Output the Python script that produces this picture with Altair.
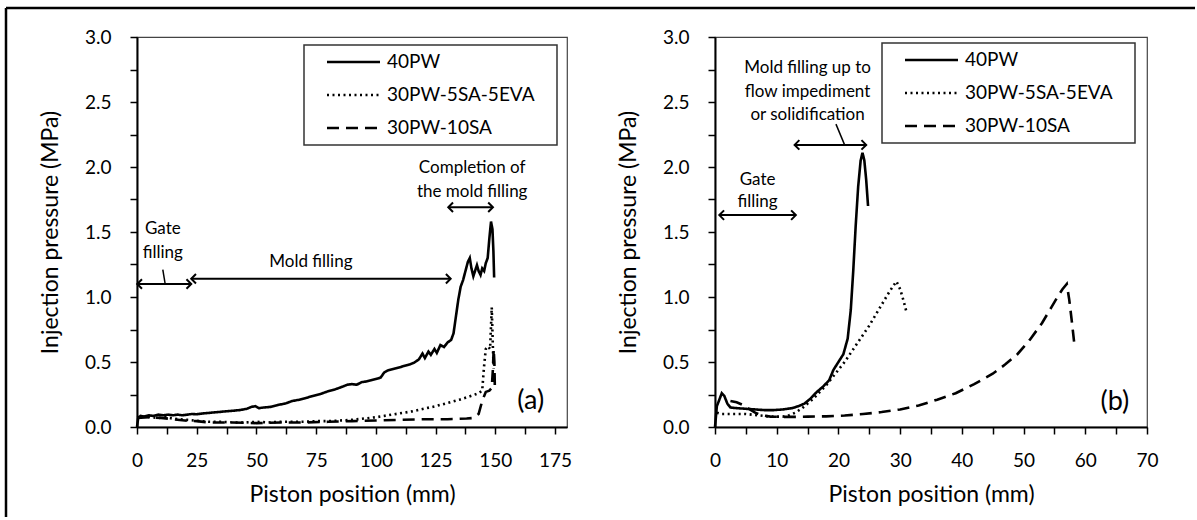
import altair as alt
import pandas as pd

FONT = "Lato"

SERIES = ["40PW", "30PW-5SA-5EVA", "30PW-10SA"]
DASHES = [[1, 0], [2, 3.5], [12, 7]]

Y_TICKS = [0.0, 0.25, 0.5, 0.75, 1.0, 1.25, 1.5, 1.75, 2.0, 2.25, 2.5, 2.75, 3.0]
A_X_TICKS = [0, 12.5, 25, 37.5, 50, 62.5, 75, 87.5, 100, 112.5, 125, 137.5, 150, 162.5, 175]
B_X_TICKS = [0, 5, 10, 15, 20, 25, 30, 35, 40, 45, 50, 55, 60, 65, 70]

# ---------------- panel (a) ----------------
A_40PW_X = [0, 0.5, 1.5, 3, 5, 7, 9, 11, 13, 15, 17, 19, 21, 23, 25, 28, 31, 34, 37, 40,
            43, 46, 48, 49.5, 51, 53, 56, 59, 62, 65, 68, 71, 74, 77, 80, 83, 86, 88, 90, 92,
            94, 96, 98, 100, 102, 103.5, 105, 108, 111, 114, 116, 118, 119.5, 120.5, 122, 123,
            124.5, 125.5, 127, 128.5, 130, 131.5, 132.5, 133.5, 134.5, 135.5, 136.5, 137.5,
            138.5, 139.3, 140, 140.8, 141.5, 142.3, 143, 143.8, 144.5, 145.3, 146, 146.8,
            147.5, 148.2, 148.8, 149.2, 149.5]
A_40PW_Y = [0.0, 0.07, 0.085, 0.08, 0.09, 0.085, 0.095, 0.09, 0.095, 0.09, 0.095, 0.09, 0.095,
            0.1, 0.098, 0.105, 0.11, 0.115, 0.12, 0.125, 0.13, 0.14, 0.155, 0.16, 0.145, 0.15,
            0.155, 0.17, 0.18, 0.2, 0.21, 0.225, 0.24, 0.255, 0.275, 0.29, 0.31, 0.325, 0.33,
            0.325, 0.345, 0.35, 0.36, 0.37, 0.38, 0.42, 0.435, 0.45, 0.465, 0.48, 0.495, 0.52,
            0.565, 0.53, 0.58, 0.555, 0.6, 0.57, 0.63, 0.615, 0.65, 0.67, 0.72, 0.85, 0.98,
            1.08, 1.13, 1.2, 1.27, 1.3, 1.22, 1.16, 1.2, 1.245, 1.2, 1.17, 1.22, 1.2, 1.26,
            1.3, 1.45, 1.58, 1.52, 1.35, 1.15]

A_DOT_X = [0, 3, 6, 9, 12, 15, 18, 21, 24, 27, 30, 35, 40, 45, 50, 55, 60, 65, 70, 75, 80,
           85, 90, 95, 100, 105, 110, 115, 120, 125, 130, 135, 140, 143, 144.5, 145.2, 146,
           147, 147.8, 148.5, 149, 149.3]
A_DOT_Y = [0.075, 0.08, 0.075, 0.07, 0.075, 0.065, 0.06, 0.055, 0.05, 0.045, 0.04, 0.04,
           0.035, 0.035, 0.04, 0.035, 0.04, 0.04, 0.04, 0.045, 0.045, 0.05, 0.055, 0.065,
           0.075, 0.09, 0.105, 0.12, 0.14, 0.16, 0.185, 0.21, 0.24, 0.26, 0.28, 0.45, 0.6,
           0.62, 0.6, 0.92, 0.6, 0.45]

A_DASH_X = [0, 5, 10, 15, 20, 25, 30, 40, 50, 60, 70, 80, 90, 100, 110, 120, 130, 138, 141,
            143, 144.5, 146, 147.5, 148.5, 149, 149.3, 149.6, 149.8]
A_DASH_Y = [0.07, 0.075, 0.07, 0.06, 0.05, 0.045, 0.035, 0.035, 0.03, 0.035, 0.035, 0.04,
            0.045, 0.05, 0.055, 0.06, 0.06, 0.065, 0.07, 0.1, 0.2, 0.27, 0.28, 0.3, 0.45,
            0.6, 0.5, 0.3]

# ---------------- panel (b) ----------------
B_40PW_X = [0, 0.3, 0.7, 1.1, 1.5, 2.0, 2.5, 3.5, 5, 6.5, 8, 9.5, 11, 12.5, 13.5, 14.5, 15.5,
            16.5, 17.5, 18.5, 19.2, 20, 20.8, 21.5, 22, 22.4, 22.8, 23.2, 23.6, 23.9, 24.2,
            24.5, 24.8]
B_40PW_Y = [0.0, 0.16, 0.21, 0.26, 0.24, 0.18, 0.15, 0.145, 0.14, 0.135, 0.13, 0.13, 0.135,
            0.145, 0.16, 0.18, 0.22, 0.27, 0.31, 0.36, 0.44, 0.5, 0.56, 0.68, 0.9, 1.2, 1.55,
            1.85, 2.05, 2.11, 2.05, 1.9, 1.7]

B_DOT_X = [0.3, 1, 2, 3, 4, 5, 6, 7, 8, 9, 10, 11, 12, 13, 14, 15, 16, 17, 18, 19, 20, 21,
           22, 23, 24, 25, 26, 27, 28, 28.8, 29.4, 30, 30.5, 31]
B_DOT_Y = [0.11, 0.1, 0.1, 0.1, 0.1, 0.1, 0.095, 0.09, 0.085, 0.08, 0.08, 0.08, 0.09, 0.11,
           0.14, 0.18, 0.22, 0.27, 0.32, 0.38, 0.44, 0.5, 0.57, 0.64, 0.71, 0.78, 0.86, 0.94,
           1.02, 1.08, 1.12, 1.06, 0.98, 0.89]

B_DASH_X = [2.5, 3.5, 4.5, 5.5, 6.5, 7.5, 9, 11, 13, 15, 18, 21, 24, 27, 30, 33, 36, 39, 42,
            45, 47, 49, 51, 53, 54.5, 55.5, 56.3, 57, 57.4, 57.8, 58.2]
B_DASH_Y = [0.2, 0.19, 0.17, 0.14, 0.11, 0.09, 0.08, 0.078, 0.078, 0.08, 0.082, 0.088, 0.1,
            0.115, 0.135, 0.165, 0.21, 0.26, 0.33, 0.41, 0.48, 0.56, 0.67, 0.8, 0.92, 1.0,
            1.06, 1.1, 0.98, 0.82, 0.65]

# ---------------- annotations ----------------
A_ARROW_FROM = [0.1, 22.7, 130.3]
A_ARROW_TO = [22.7, 131.3, 149.0]
A_ARROW_Y = [1.10, 1.14, 1.69]
A_LEADER = [[10.8, 1.21, 11.8, 1.10]]
A_NOTE_TEXT = ["Gate", "filling", "Mold filling", "Completion of", "the mold filling"]
A_NOTE_X = [10.8, 10.8, 72.8, 140.3, 140.3]
A_NOTE_Y = [1.52, 1.34, 1.27, 1.99, 1.81]
A_TAG = ("(a)", 164.8, 0.2)

B_ARROW_FROM = [12.9, 0.7]
B_ARROW_TO = [24.5, 13.1]
B_ARROW_Y = [2.17, 1.63]
B_LEADER = [[19.6, 2.33, 21.0, 2.17]]
B_NOTE_TEXT = ["Mold filling up to", "flow impediment", "or solidification", "Gate", "filling"]
B_NOTE_X = [15.0, 15.0, 15.0, 6.9, 6.9]
B_NOTE_Y = [2.76, 2.58, 2.40, 1.90, 1.73]
B_TAG = ("(b)", 64.8, 0.19)

RIGHT_HEAD = "M-1,-1L0,0L-1,1"
LEFT_HEAD = "M1,-1L0,0L1,1"


def series_frame(xs_list, ys_list):
    rows = []
    for name, xs, ys in zip(SERIES, xs_list, ys_list):
        for i, (x, y) in enumerate(zip(xs, ys)):
            rows.append({"series": name, "x": x, "y": y, "i": i})
    return pd.DataFrame(rows)


def panel(df, xdom, xticks, xstep, width, arr_from, arr_to, arr_y, leaders,
          note_text, note_x, note_y, tag, legend_x, legend_y, border=False):
    xscale = alt.Scale(domain=xdom, nice=False, zero=False)
    yscale = alt.Scale(domain=[0, 3], nice=False, zero=False)
    xaxis = alt.Axis(title="Piston position (mm)", values=xticks,
                     labelExpr=f"datum.value % {xstep} == 0 ? datum.label : ''",
                     labelFlush=False, labelOverlap=False, grid=False)
    yaxis = alt.Axis(title="Injection pressure (MPa)", values=Y_TICKS,
                     labelExpr="datum.value % 0.5 == 0 ? format(datum.value, '.1f') : ''",
                     labelFlush=False, labelOverlap=False, grid=False)

    def X(f):
        return alt.X(f, scale=xscale, axis=xaxis)

    def Y(f):
        return alt.Y(f, scale=yscale, axis=yaxis)

    lines = alt.Chart(df).mark_line(color="black", strokeWidth=2.6).encode(
        x=X("x:Q"),
        y=Y("y:Q"),
        strokeDash=alt.StrokeDash(
            "series:N",
            scale=alt.Scale(domain=SERIES, range=DASHES),
            legend=alt.Legend(orient="none", legendX=legend_x, legendY=legend_y,
                              title="WW", titleOrient="right", titlePadding=0,
                              titleFontSize=7, titleColor="white", direction="vertical"),
        ),
        order="i:Q",
    )

    arrows = pd.DataFrame({"xa": arr_from, "xb": arr_to, "y": arr_y})
    ac = alt.Chart(arrows)
    shafts = ac.mark_rule(color="black", strokeWidth=2).encode(
        x=X("xa:Q"), x2="xb:Q", y=Y("y:Q"))
    lhead = ac.mark_point(shape=LEFT_HEAD, size=90, filled=False, color="black",
                          strokeWidth=2, opacity=1).encode(x=X("xa:Q"), y=Y("y:Q"))
    rhead = ac.mark_point(shape=RIGHT_HEAD, size=90, filled=False, color="black",
                          strokeWidth=2, opacity=1).encode(x=X("xb:Q"), y=Y("y:Q"))

    ld = pd.DataFrame(leaders, columns=["xa", "ya", "xb", "yb"])
    leader = alt.Chart(ld).mark_rule(color="black", strokeWidth=1.5).encode(
        x=X("xa:Q"), y=Y("ya:Q"), x2="xb:Q", y2="yb:Q")

    nd = pd.DataFrame({"t": note_text, "x": note_x, "y": note_y})
    notes = alt.Chart(nd).mark_text(font=FONT, fontSize=17, color="black",
                                    align="center", baseline="middle").encode(
        x=X("x:Q"), y=Y("y:Q"), text="t:N")

    td = pd.DataFrame({"t": [tag[0]], "x": [tag[1]], "y": [tag[2]]})
    tagm = alt.Chart(td).mark_text(font=FONT, fontSize=27, color="black",
                                   align="center", baseline="middle").encode(
        x=X("x:Q"), y=Y("y:Q"), text="t:N")

    layers = [lines, shafts, lhead, rhead, leader, notes, tagm]
    if border:
        one = alt.Chart(pd.DataFrame({"k": [0]}))
        top = one.mark_rule(color="black", strokeWidth=2.5).encode(
            x=alt.value(-131), x2=alt.value(1058), y=alt.value(-29))
        left = one.mark_rule(color="black", strokeWidth=2.5).encode(
            x=alt.value(-131), y=alt.value(-29), y2=alt.value(480))
        layers += [top, left]
    return alt.layer(*layers).properties(width=width, height=390)


df_a = series_frame([A_40PW_X, A_DOT_X, A_DASH_X], [A_40PW_Y, A_DOT_Y, A_DASH_Y])
df_b = series_frame([B_40PW_X, B_DOT_X, B_DASH_X], [B_40PW_Y, B_DOT_Y, B_DASH_Y])

pa = panel(df_a, [0, 180], A_X_TICKS, 25, 430, A_ARROW_FROM, A_ARROW_TO, A_ARROW_Y,
           A_LEADER, A_NOTE_TEXT, A_NOTE_X, A_NOTE_Y, A_TAG, 167, 8, border=True)
pb = panel(df_b, [0, 70], B_X_TICKS, 10, 432, B_ARROW_FROM, B_ARROW_TO, B_ARROW_Y,
           B_LEADER, B_NOTE_TEXT, B_NOTE_X, B_NOTE_Y, B_TAG, 167, 6)

chart = (
    alt.hconcat(pa, pb, spacing=148, bounds="flush")
    .resolve_scale(strokeDash="independent")
    .resolve_legend(strokeDash="independent")
    .properties(padding={"left": 4, "top": 6, "right": 0, "bottom": 0}, background="white")
    .configure_view(stroke="#444", strokeWidth=1.2)
    .configure_axis(domainColor="black", domainWidth=2, tickColor="black", tickWidth=1.5,
                    tickSize=7, labelFont=FONT, labelFontSize=19, labelColor="black",
                    titleFont=FONT, titleFontSize=23, titleColor="black",
                    titleFontWeight="normal")
    .configure_axisX(labelPadding=17, titlePadding=13)
    .configure_axisY(labelPadding=19, titlePadding=22)
    .configure_legend(strokeColor="#333", strokeWidth=1.5, fillColor="white", padding=7,
                      symbolType="stroke", symbolSize=2809, symbolStrokeWidth=2.6,
                      symbolStrokeColor="black", symbolOffset=14.5, labelOffset=5.5,
                      clipHeight=20, labelFont=FONT, labelFontSize=19, labelColor="black",
                      rowPadding=13, titleFont=FONT)
)

chart.save("out.html", embed_options={"renderer": "svg", "actions": False})
